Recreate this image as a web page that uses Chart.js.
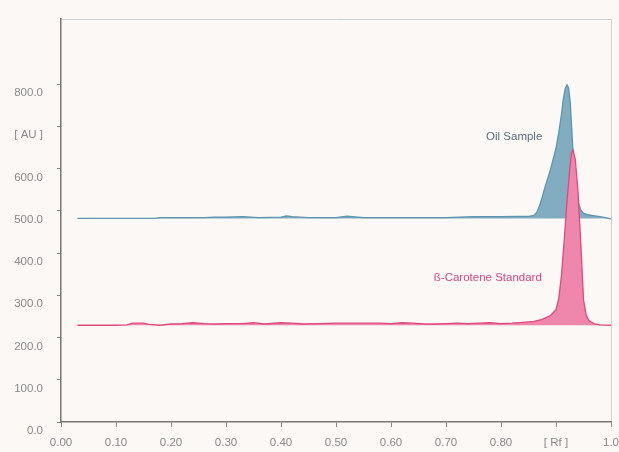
<!DOCTYPE html>
<html>
<head>
<meta charset="utf-8">
<script src="https://cdn.jsdelivr.net/npm/chart.js@4/dist/chart.umd.min.js"></script>
<style>
  body { margin: 0; background: #fbf8f6; }
  #wrap { width: 619px; height: 452px; }
</style>
</head>
<body>
<div id="wrap"><canvas id="hptlcChart" width="619" height="452"></canvas></div>
<script>
// densitogram scan, Rf vs absorbance units
const oilRf = [0.03, 0.10, 0.17, 0.18, 0.22, 0.26, 0.28, 0.30, 0.33, 0.36, 0.40, 0.41, 0.42, 0.45, 0.50, 0.52, 0.55, 0.60, 0.65, 0.70, 0.75, 0.78, 0.80, 0.83, 0.85, 0.86, 0.865, 0.87, 0.875, 0.88, 0.89, 0.90, 0.905, 0.91, 0.913, 0.917, 0.92, 0.923, 0.926, 0.93, 0.935, 0.94, 0.945, 0.95, 0.96, 0.97, 0.98, 0.99, 1.0];
const oilAU = [482, 482, 482, 484, 484, 484, 485, 485, 486, 484, 485, 488, 486, 484, 484, 487, 484, 484, 484, 484, 486, 486, 486, 487, 487, 489, 496, 512, 532, 556, 598, 648, 685, 728, 762, 790, 798, 790, 755, 660, 568, 522, 502, 494, 490, 488, 486, 484, 481];

const stdRf = [0.03, 0.10, 0.12, 0.13, 0.15, 0.16, 0.18, 0.20, 0.22, 0.24, 0.26, 0.28, 0.30, 0.33, 0.35, 0.37, 0.40, 0.42, 0.44, 0.47, 0.50, 0.53, 0.56, 0.58, 0.60, 0.62, 0.64, 0.66, 0.68, 0.70, 0.72, 0.74, 0.76, 0.78, 0.80, 0.82, 0.84, 0.86, 0.875, 0.89, 0.90, 0.905, 0.91, 0.915, 0.92, 0.925, 0.928, 0.931, 0.935, 0.94, 0.945, 0.95, 0.955, 0.96, 0.97, 0.98, 1.0];
const stdAU = [229, 229, 230, 234, 234, 231, 229, 232, 233, 235, 233, 232, 233, 233, 235, 232, 235, 234, 232, 233, 234, 234, 234, 234, 233, 235, 234, 232, 232, 233, 234, 233, 234, 235, 233, 234, 236, 238, 243, 252, 266, 292, 348, 432, 522, 598, 635, 644, 622, 545, 425, 290, 252, 240, 232, 230, 229];

const xTicks = [0, 0.1, 0.2, 0.3, 0.4, 0.5, 0.6, 0.7, 0.8, 0.9, 1.0];
const yTicks = [0, 100, 200, 300, 400, 500, 600, 700, 800];

const peakLabels = [
  { text: "Oil Sample", rf: 0.824, au: 675, color: "#55707e" },
  { text: "ß-Carotene Standard", rf: 0.776, au: 341, color: "#d8457c" }
];

function toPoints(xs, ys) {
  return xs.map((x, i) => ({ x: x, y: ys[i] }));
}

const bgPlugin = {
  id: "bg",
  beforeDraw(chart) {
    const c = chart.ctx;
    c.save();
    c.fillStyle = "#fbf8f6";
    c.fillRect(0, 0, chart.width, chart.height);
    const a = chart.chartArea;
    c.strokeStyle = "#cfcfcf";
    c.lineWidth = 1;
    c.beginPath();
    c.moveTo(a.left, a.top + 0.5);
    c.lineTo(a.right + 0.5, a.top + 0.5);
    c.lineTo(a.right + 0.5, a.bottom);
    c.stroke();
    c.restore();
  },
  afterDatasetsDraw(chart) {
    const c = chart.ctx;
    const xs = chart.scales.x, ys = chart.scales.y;
    c.save();
    c.font = "11.5px 'Liberation Sans', Arial, sans-serif";
    c.textAlign = "center";
    c.textBaseline = "middle";
    peakLabels.forEach((l) => {
      c.fillStyle = l.color;
      c.fillText(l.text, xs.getPixelForValue(l.rf), ys.getPixelForValue(l.au));
    });
    c.restore();
  }
};

const ctx = document.getElementById("hptlcChart").getContext("2d");
new Chart(ctx, {
  type: "line",
  data: {
    datasets: [
      {
        label: "ß-Carotene Standard",
        data: toPoints(stdRf, stdAU),
        borderColor: "#e0487e",
        backgroundColor: "#ef86ab",
        borderWidth: 1.3,
        pointRadius: 0,
        tension: 0,
        fill: { value: 229 },
        order: 0
      },
      {
        label: "Oil Sample",
        data: toPoints(oilRf, oilAU),
        borderColor: "#5b96b0",
        backgroundColor: "#82adc0",
        borderWidth: 1.3,
        pointRadius: 0,
        tension: 0,
        fill: { value: 482 },
        order: 1
      }
    ]
  },
  options: {
    responsive: false,
    devicePixelRatio: 1,
    animation: false,
    layout: { padding: { top: 19, right: 8, left: 0, bottom: 0 } },
    plugins: {
      legend: { display: false },
      tooltip: { enabled: false }
    },
    scales: {
      x: {
        type: "linear",
        min: 0,
        max: 1,
        afterBuildTicks: (s) => { s.ticks = xTicks.map((v) => ({ value: v })); },
        afterFit: (s) => { s.height = 30; s.paddingLeft = 0; s.paddingRight = 0; },
        border: { color: "#777", width: 1.5 },
        grid: { drawOnChartArea: false, drawTicks: true, tickLength: 5, color: "#888" },
        ticks: {
          color: "#8a8a8a",
          font: { family: "'Liberation Sans', Arial, sans-serif", size: 11.5 },
          padding: 9,
          maxRotation: 0,
          autoSkip: false,
          callback: (v) => (v === 0.9 ? "[ Rf ]" : v === 1 ? "1.0" : v.toFixed(2))
        }
      },
      y: {
        min: 0,
        max: 954,
        afterBuildTicks: (s) => { s.ticks = yTicks.map((v) => ({ value: v })); },
        afterFit: (s) => { s.width = 61; s.paddingTop = 0; s.paddingBottom = 0; },
        border: { color: "#777", width: 1.5 },
        grid: { drawOnChartArea: false, drawTicks: true, tickLength: 4, color: "#888" },
        ticks: {
          color: "#8a8a8a",
          font: { family: "'Liberation Sans', Arial, sans-serif", size: 11.5 },
          padding: 14,
          labelOffset: 9,
          autoSkip: false,
          callback: (v) => (v === 700 ? "[ AU ]" : v.toFixed(1))
        }
      }
    }
  },
  plugins: [bgPlugin]
});
</script>
</body>
</html>
